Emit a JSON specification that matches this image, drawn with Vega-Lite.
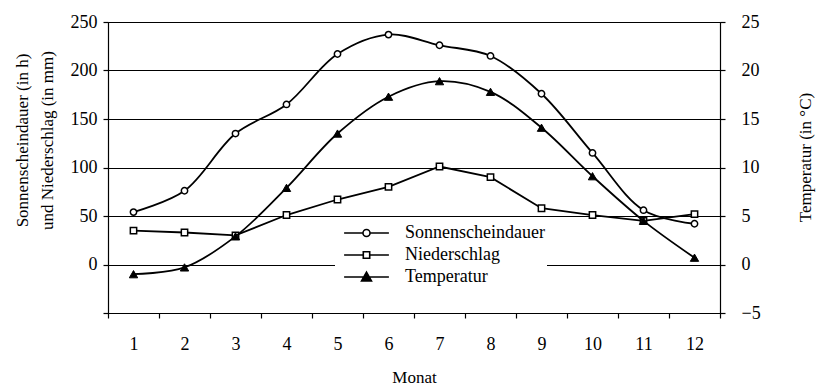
{
  "$schema": "https://vega.github.io/schema/vega-lite/v6.json",
  "width": 612,
  "height": 291,
  "autosize": {"type": "none"},
  "padding": {"left": 108, "top": 22, "right": 96, "bottom": 79},
  "background": "white",
  "config": {
    "font": "Liberation Serif",
    "style": {
      "guide-label": {"font": "Liberation Serif", "fill": "black"},
      "guide-title": {"font": "Liberation Serif", "fill": "black"}
    },
    "view": {"stroke": "black", "strokeWidth": 1},
    "axis": {
      "labelFont": "Liberation Serif",
      "titleFont": "Liberation Serif",
      "labelFontSize": 18,
      "titleFontSize": 17,
      "titleFontWeight": "normal",
      "labelColor": "black",
      "titleColor": "black",
      "domainColor": "black",
      "tickColor": "black",
      "domainWidth": 1.2,
      "tickWidth": 1.2
    },
    "legend": {"labelFont": "Liberation Serif", "labelFontSize": 18, "labelColor": "black"}
  },
  "data": {
    "values": [
      {"Monat": 1, "Sonnenscheindauer": 54, "Niederschlag": 35, "Temperatur": -1.0},
      {"Monat": 2, "Sonnenscheindauer": 76, "Niederschlag": 33, "Temperatur": -0.3},
      {"Monat": 3, "Sonnenscheindauer": 135, "Niederschlag": 30, "Temperatur": 2.9},
      {"Monat": 4, "Sonnenscheindauer": 165, "Niederschlag": 51, "Temperatur": 7.9},
      {"Monat": 5, "Sonnenscheindauer": 217, "Niederschlag": 67, "Temperatur": 13.5},
      {"Monat": 6, "Sonnenscheindauer": 237, "Niederschlag": 80, "Temperatur": 17.3},
      {"Monat": 7, "Sonnenscheindauer": 226, "Niederschlag": 101, "Temperatur": 18.9},
      {"Monat": 8, "Sonnenscheindauer": 215, "Niederschlag": 90, "Temperatur": 17.8},
      {"Monat": 9, "Sonnenscheindauer": 176, "Niederschlag": 58, "Temperatur": 14.1},
      {"Monat": 10, "Sonnenscheindauer": 115, "Niederschlag": 51, "Temperatur": 9.1},
      {"Monat": 11, "Sonnenscheindauer": 56, "Niederschlag": 45, "Temperatur": 4.5},
      {"Monat": 12, "Sonnenscheindauer": 42, "Niederschlag": 52, "Temperatur": 0.7}
    ]
  },
  "layer": [
    {
      "transform": [{"fold": ["Sonnenscheindauer", "Niederschlag"], "as": ["Reihe", "Wert"]}],
      "encoding": {
        "x": {
          "field": "Monat",
          "type": "quantitative",
          "scale": {"domain": [0.5, 12.5], "nice": false, "zero": false},
          "axis": {
            "values": [0.5, 1.5, 2.5, 3.5, 4.5, 5.5, 6.5, 7.5, 8.5, 9.5, 10.5, 11.5, 12.5],
            "labelExpr": "datum.value < 12 ? format(datum.value + 0.5, 'd') : ''",
            "labelOffset": 25.5,
            "labelPadding": 17,
            "labelFont": "Liberation Serif",
            "titleFont": "Liberation Serif",
            "tickSize": 5,
            "grid": false,
            "title": "Monat",
            "titlePadding": 16,
            "labelFlush": false,
            "labelOverlap": false
          }
        },
        "y": {
          "field": "Wert",
          "type": "quantitative",
          "scale": {"domain": [-50, 250], "nice": false, "zero": false},
          "axis": {
            "values": [-50, 0, 50, 100, 150, 200, 250],
            "labelExpr": "datum.value < 0 ? '' : datum.label",
            "labelFont": "Liberation Serif",
            "titleFont": "Liberation Serif",
            "grid": true,
            "gridColor": "black",
            "gridWidth": 1,
            "tickSize": 5,
            "labelPadding": 6,
            "title": ["Sonnenscheindauer (in h)", "und Niederschlag (in mm)"],
            "titleLineHeight": 25,
            "titlePadding": 14,
            "titleY": 118,
            "labelFlush": false
          }
        }
      },
      "layer": [
        {
          "transform": [{"filter": "datum.Reihe === 'Sonnenscheindauer'"}],
          "layer": [
            {"mark": {"type": "line", "interpolate": "catmull-rom", "color": "black", "strokeWidth": 1.8}},
            {"mark": {"type": "point", "shape": "circle", "filled": true, "fill": "white", "stroke": "black", "strokeWidth": 1.5, "opacity": 1, "size": 40}}
          ]
        },
        {
          "transform": [{"filter": "datum.Reihe === 'Niederschlag'"}],
          "layer": [
            {"mark": {"type": "line", "color": "black", "strokeWidth": 1.8}},
            {"mark": {"type": "point", "shape": "square", "filled": true, "fill": "white", "stroke": "black", "strokeWidth": 1.5, "opacity": 1, "size": 40}}
          ]
        },
        {
          "mark": {"type": "point", "filled": true, "strokeWidth": 1.6, "opacity": 0},
          "encoding": {
            "shape": {
              "field": "Reihe",
              "type": "nominal",
              "scale": {
                "domain": ["Sonnenscheindauer", "Niederschlag", "Temperatur"],
                "range": [
                  "M-2.8,0L-0.44,0M0.44,0L2.8,0M0.44,0A0.44,0.44,0,1,1,-0.44,0A0.44,0.44,0,1,1,0.44,0Z",
                  "M-2.8,0L-0.4,0M0.4,0L2.8,0M-0.4,-0.4L0.4,-0.4L0.4,0.4L-0.4,0.4Z",
                  "M-2.8,0L2.8,0M0,-0.62L0.62,0.48L-0.62,0.48Z"
                ]
              },
              "legend": {
                "title": null,
                "orient": "none",
                "legendX": 227,
                "legendY": 200,
                "fillColor": "white",
                "padding": 2,
                "rowPadding": 4,
                "symbolSize": 256,
                "symbolOffset": 20.5,
                "labelOffset": 29.5,
                "symbolOpacity": 1,
                "symbolStrokeWidth": 1.6,
                "labelFont": "Liberation Serif"
              }
            },
            "fill": {
              "field": "Reihe",
              "type": "nominal",
              "scale": {
                "domain": ["Sonnenscheindauer", "Niederschlag", "Temperatur"],
                "range": ["white", "white", "black"]
              },
              "legend": {
                "title": null,
                "orient": "none",
                "legendX": 227,
                "legendY": 200,
                "fillColor": "white",
                "padding": 2,
                "rowPadding": 4,
                "symbolSize": 256,
                "symbolOffset": 20.5,
                "labelOffset": 29.5,
                "symbolOpacity": 1,
                "symbolStrokeWidth": 1.6,
                "labelFont": "Liberation Serif"
              }
            },
            "stroke": {
              "field": "Reihe",
              "type": "nominal",
              "scale": {
                "domain": ["Sonnenscheindauer", "Niederschlag", "Temperatur"],
                "range": ["black", "black", "black"]
              },
              "legend": {
                "title": null,
                "orient": "none",
                "legendX": 227,
                "legendY": 200,
                "fillColor": "white",
                "padding": 2,
                "rowPadding": 4,
                "symbolSize": 256,
                "symbolOffset": 20.5,
                "labelOffset": 29.5,
                "symbolOpacity": 1,
                "symbolStrokeWidth": 1.6,
                "labelFont": "Liberation Serif"
              }
            }
          }
        }
      ]
    },
    {
      "encoding": {
        "x": {"field": "Monat", "type": "quantitative"},
        "y": {
          "field": "Temperatur",
          "type": "quantitative",
          "scale": {"domain": [-5, 25], "nice": false, "zero": false},
          "axis": {
            "orient": "right",
            "values": [-5, 0, 5, 10, 15, 20, 25],
            "labelFont": "Liberation Serif",
            "titleFont": "Liberation Serif",
            "grid": false,
            "tickSize": 5,
            "labelPadding": 16,
            "title": "Temperatur (in °C)",
            "titleAngle": 270,
            "titlePadding": 54,
            "titleY": 135,
            "labelFlush": false
          }
        }
      },
      "layer": [
        {"mark": {"type": "line", "interpolate": "catmull-rom", "color": "black", "strokeWidth": 1.8}},
        {"mark": {"type": "point", "shape": "triangle-up", "filled": true, "fill": "black", "stroke": "black", "strokeWidth": 1, "opacity": 1, "size": 70}}
      ]
    }
  ],
  "resolve": {"scale": {"y": "independent"}}
}
